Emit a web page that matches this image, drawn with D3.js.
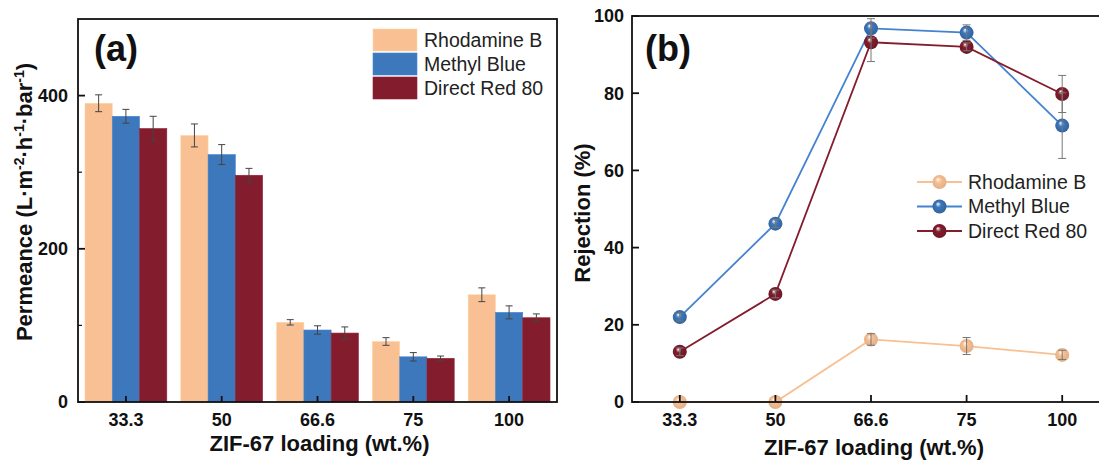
<!DOCTYPE html>
<html>
<head>
<meta charset="utf-8">
<script src="https://cdn.jsdelivr.net/npm/d3@7"></script>
<style>
    body { margin: 0; background: #fff; }
    svg { display: block; font-family: "Liberation Sans", Arial, sans-serif; }
</style>
</head>
<body>
<div id="chart"></div>
<script>
// Données
const loadings = ["33.3", "50", "66.6", "75", "100"];
const dyes = ["Rhodamine B", "Methyl Blue", "Direct Red 80"];
const dyeColors = ["#F8C093", "#3D78BD", "#831D2D"];

// (a) perméance
const permRhB = [390, 348, 104, 79, 140];
const permRhBErr = [11, 15, 3.5, 5, 9];
const permMB = [373, 323, 94, 59, 117];
const permMBErr = [9, 13, 5.5, 5.5, 8.5];
const permDR = [357, 296, 90, 57, 110];
const permDRErr = [16, 9, 8, 3, 5];

// (b) rejet
const rejRhB = [0, 0, 16.2, 14.5, 12.2];
const rejRhBErr = [0, 0, 1.5, 2.2, 1.2];
const rejMB = [22, 46.2, 96.8, 95.7, 71.6];
const rejMBErr = [1, 1, 2.5, 2, 8.5];
const rejDR = [13, 28, 93.2, 92, 79.8];
const rejDRErr = [1, 1, 5, 1, 4.8];

const permTicks = [0, 200, 400];
const permMinor = [100, 300];
const rejTicks = [0, 20, 40, 60, 80, 100];

const perm = [permRhB, permMB, permDR];
const permErr = [permRhBErr, permMBErr, permDRErr];
const rej = [rejRhB, rejMB, rejDR];
const rejErr = [rejRhBErr, rejMBErr, rejDRErr];

const W = 1099, H = 461;
const svg = d3.select("#chart").append("svg").attr("width", W).attr("height", H);

// gradients pour les sphères
const defs = svg.append("defs");
dyeColors.forEach((c, i) => {
    const g = defs.append("radialGradient").attr("id", "ball" + i)
        .attr("cx", "50%").attr("cy", "50%").attr("r", "55%")
        .attr("fx", "38%").attr("fy", "30%");
    g.append("stop").attr("offset", "0%").attr("stop-color", "#fff");
    g.append("stop").attr("offset", "35%").attr("stop-color", c);
    g.append("stop").attr("offset", "100%").attr("stop-color", d3.color(c).darker(i === 0 ? 0.3 : 0.6));
});

const ink = "#111";
const axisW = 1.8;

/*
=========================================================
(a) Barchart
=========================================================
*/
const a = {left: 78, right: 557, top: 19, bottom: 402};
const x0 = d3.scaleBand().domain(loadings).range([a.left, a.right])
    .paddingInner(0.146).paddingOuter(0.073);
const x1 = d3.scaleBand().domain(dyes).range([0, x0.bandwidth()]);
const yA = d3.scaleLinear().domain([0, 500]).range([a.bottom, a.top]);

const gA = svg.append("g");

loadings.forEach((l, j) => {
    dyes.forEach((d, i) => {
        gA.append("rect")
            .attr("x", x0(l) + x1(d))
            .attr("y", yA(perm[i][j]))
            .attr("width", x1.bandwidth())
            .attr("height", yA(0) - yA(perm[i][j]))
            .attr("fill", dyeColors[i])
            .attr("stroke", d3.color(dyeColors[i]).brighter(0.3))
            .attr("stroke-width", 0.6);
    });
});

// barres d'erreur
loadings.forEach((l, j) => {
    dyes.forEach((d, i) => {
        const cx = x0(l) + x1(d) + x1.bandwidth() / 2;
        const y1 = yA(perm[i][j] + permErr[i][j]), y2 = yA(perm[i][j] - permErr[i][j]);
        gA.append("line").attr("x1", cx).attr("x2", cx).attr("y1", y1).attr("y2", y2)
            .attr("stroke", "#444").attr("stroke-width", 1);
        [y1, y2].forEach(yy => gA.append("line").attr("x1", cx - 3.5).attr("x2", cx + 3.5)
            .attr("y1", yy).attr("y2", yy).attr("stroke", "#444").attr("stroke-width", 1));
    });
});

// cadre
gA.append("rect").attr("x", a.left).attr("y", a.top)
    .attr("width", a.right - a.left).attr("height", a.bottom - a.top)
    .attr("fill", "none").attr("stroke", ink).attr("stroke-width", axisW);

// ticks y
permTicks.forEach(t => {
    gA.append("line").attr("x1", a.left).attr("x2", a.left + 7)
        .attr("y1", yA(t)).attr("y2", yA(t)).attr("stroke", ink).attr("stroke-width", axisW);
    gA.append("text").attr("x", a.left - 10).attr("y", yA(t)).attr("dy", "0.35em")
        .attr("text-anchor", "end").attr("font-size", 18).attr("font-weight", "bold")
        .attr("fill", ink).text(t);
});
permMinor.forEach(t => {
    gA.append("line").attr("x1", a.left).attr("x2", a.left + 4)
        .attr("y1", yA(t)).attr("y2", yA(t)).attr("stroke", ink).attr("stroke-width", 1.2);
});
// ticks x
loadings.forEach(l => {
    const cx = x0(l) + x0.bandwidth() / 2;
    gA.append("line").attr("x1", cx).attr("x2", cx).attr("y1", a.bottom).attr("y2", a.bottom - 6)
        .attr("stroke", ink).attr("stroke-width", axisW);
    gA.append("text").attr("x", cx).attr("y", 426).attr("text-anchor", "middle")
        .attr("font-size", 18).attr("font-weight", "bold").attr("fill", ink).text(l);
});

// titres
gA.append("text").attr("x", (a.left + a.right) / 2 + 2).attr("y", 451)
    .attr("text-anchor", "middle").attr("font-size", 22).attr("font-weight", "bold")
    .attr("fill", ink).text("ZIF-67 loading (wt.%)");

const yt = gA.append("text").attr("transform", "translate(32,202) rotate(-90)")
    .attr("text-anchor", "middle").attr("font-size", 22).attr("font-weight", "bold").attr("fill", ink);
yt.append("tspan").text("Permeance (L·m");
yt.append("tspan").attr("dy", -8).attr("font-size", 14).text("-2");
yt.append("tspan").attr("dy", 8).text("·h");
yt.append("tspan").attr("dy", -8).attr("font-size", 14).text("-1");
yt.append("tspan").attr("dy", 8).text("·bar");
yt.append("tspan").attr("dy", -8).attr("font-size", 14).text("-1");
yt.append("tspan").attr("dy", 8).text(")");

gA.append("text").attr("x", 94).attr("y", 61).attr("font-size", 36).attr("font-weight", "bold")
    .attr("fill", ink).text("(a)");

// légende
dyes.forEach((d, i) => {
    const ly = 29 + i * 24;
    gA.append("rect").attr("x", 373).attr("y", ly).attr("width", 44).attr("height", 22)
        .attr("fill", dyeColors[i]).attr("stroke", d3.color(dyeColors[i]).brighter(0.3)).attr("stroke-width", 0.6);
    gA.append("text").attr("x", 424).attr("y", ly + 11).attr("dy", "0.35em")
        .attr("font-size", 19.5).attr("fill", "#222").text(d);
});

/*
=========================================================
(b) Courbes de rejet
=========================================================
*/
const b = {left: 632, right: 1110, top: 16, bottom: 402};
const xB = d3.scalePoint().domain(loadings).range([b.left, b.right]).padding(0.5);
const yB = d3.scaleLinear().domain([0, 100]).range([b.bottom, b.top]);

const gB = svg.append("g");

const line = d3.line().x((d, j) => xB(loadings[j])).y(d => yB(d));

dyes.forEach((d, i) => {
    gB.append("path").datum(rej[i]).attr("d", line)
        .attr("fill", "none").attr("stroke", i === 0 ? "#F8C093" : d3.color(dyeColors[i]).brighter(i === 1 ? 0.25 : 0))
        .attr("stroke-width", 1.8);
    gB.selectAll(null).data(rej[i]).join("circle")
        .attr("cx", (v, j) => xB(loadings[j])).attr("cy", v => yB(v)).attr("r", 7)
        .attr("fill", "url(#ball" + i + ")");
});

// barres d'erreur
dyes.forEach((d, i) => {
    rej[i].forEach((v, j) => {
        const e = rejErr[i][j];
        if (!e) return;
        const cx = xB(loadings[j]);
        const y1 = yB(v + e), y2 = yB(v - e);
        gB.append("line").attr("x1", cx).attr("x2", cx).attr("y1", y1).attr("y2", y2)
            .attr("stroke", "#777").attr("stroke-width", 1);
        [y1, y2].forEach(yy => gB.append("line").attr("x1", cx - 4).attr("x2", cx + 4)
            .attr("y1", yy).attr("y2", yy).attr("stroke", "#777").attr("stroke-width", 1));
    });
});

// cadre
gB.append("rect").attr("x", b.left).attr("y", b.top)
    .attr("width", b.right - b.left).attr("height", b.bottom - b.top)
    .attr("fill", "none").attr("stroke", ink).attr("stroke-width", axisW);

rejTicks.forEach(t => {
    gB.append("line").attr("x1", b.left).attr("x2", b.left + 7)
        .attr("y1", yB(t)).attr("y2", yB(t)).attr("stroke", ink).attr("stroke-width", axisW);
    gB.append("text").attr("x", b.left - 8).attr("y", yB(t)).attr("dy", "0.35em")
        .attr("text-anchor", "end").attr("font-size", 18).attr("font-weight", "bold")
        .attr("fill", ink).text(t);
});
loadings.forEach(l => {
    gB.append("line").attr("x1", xB(l)).attr("x2", xB(l)).attr("y1", b.bottom).attr("y2", b.bottom - 7)
        .attr("stroke", ink).attr("stroke-width", axisW);
    gB.append("text").attr("x", xB(l)).attr("y", 426).attr("text-anchor", "middle")
        .attr("font-size", 18).attr("font-weight", "bold").attr("fill", ink).text(l);
});

gB.append("text").attr("x", 874).attr("y", 455)
    .attr("text-anchor", "middle").attr("font-size", 22).attr("font-weight", "bold")
    .attr("fill", ink).text("ZIF-67 loading (wt.%)");
gB.append("text").attr("transform", "translate(590,213) rotate(-90)")
    .attr("text-anchor", "middle").attr("font-size", 22).attr("font-weight", "bold")
    .attr("fill", ink).text("Rejection (%)");
gB.append("text").attr("x", 645).attr("y", 61).attr("font-size", 36).attr("font-weight", "bold")
    .attr("fill", ink).text("(b)");

// légende
dyes.forEach((d, i) => {
    const ly = 182 + i * 24.5;
    gB.append("line").attr("x1", 917).attr("x2", 962).attr("y1", ly).attr("y2", ly)
        .attr("stroke", i === 0 ? "#F8C093" : d3.color(dyeColors[i]).brighter(i === 1 ? 0.25 : 0))
        .attr("stroke-width", 1.8);
    gB.append("circle").attr("cx", 939.5).attr("cy", ly).attr("r", 7).attr("fill", "url(#ball" + i + ")");
    gB.append("text").attr("x", 968).attr("y", ly).attr("dy", "0.35em")
        .attr("font-size", 19.5).attr("fill", "#222").text(d);
});
</script>
</body>
</html>
